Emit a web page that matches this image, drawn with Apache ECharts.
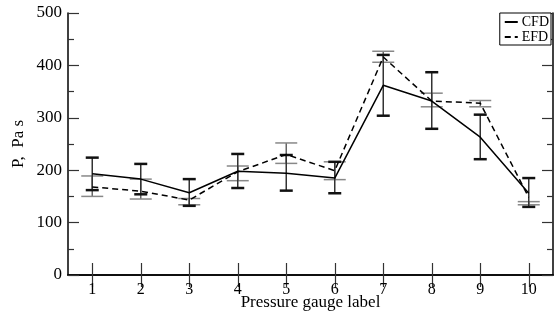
<!DOCTYPE html>
<html>
<head>
<meta charset="utf-8">
<script src="https://cdn.jsdelivr.net/npm/echarts@6/dist/echarts.min.js"></script>
<style>html,body{margin:0;padding:0;background:#fff}#c{width:555px;height:320px}</style>
</head>
<body>
<div id="c"></div>
<script>
var categories = ['1','2','3','4','5','6','7','8','9','10'];
var cfd     = [193, 183, 157, 198, 194, 185, 362, 332, 263, 156];
var cfdLow  = [162, 154, 132, 166, 161, 156, 304, 279, 221, 130];
var cfdHigh = [224, 212, 183, 231, 229, 216, 420, 387, 306, 185];
var efd     = [168, 160, 143, 197, 230, 199, 416, 332, 328, 148];
var efdLow  = [150, 145, 134, 180, 213, 182, 406, 321, 321, 134];
var efdHigh = [189, 183, 146, 208, 252, 216, 427, 347, 333, 140];
var yTicks = [0, 100, 200, 300, 400, 500];

var serif = "'Liberation Serif','DejaVu Serif',serif";

function errData(lo, hi) {
  return lo.map(function (v, i) { return [i, v, hi[i]]; });
}
function errRender(capW, capLw, capColor, stemColor) {
  return function (params, api) {
    var x = api.value(0);
    var p1 = api.coord([x, api.value(1)]);
    var p2 = api.coord([x, api.value(2)]);
    var h = capW / 2;
    return {
      type: 'group',
      children: [
        {type: 'line', shape: {x1: p1[0], y1: p1[1], x2: p2[0], y2: p2[1]}, style: {stroke: stemColor, lineWidth: 1.5}},
        {type: 'line', shape: {x1: p1[0] - h, y1: p1[1], x2: p1[0] + h, y2: p1[1]}, style: {stroke: capColor, lineWidth: capLw}},
        {type: 'line', shape: {x1: p2[0] - h, y1: p2[1], x2: p2[0] + h, y2: p2[1]}, style: {stroke: capColor, lineWidth: capLw}}
      ]
    };
  };
}

var chart = echarts.init(document.getElementById('c'), null, {renderer: 'canvas'});
var tickStyle = {color: '#333', width: 1.2};
chart.setOption({
  animation: false,
  backgroundColor: '#fff',
  grid: {left: 68, right: 2, top: 13, bottom: 45, show: false, containLabel: false, outerBoundsMode: 'none'},
  legend: {
    right: 4, top: 13, orient: 'vertical',
    data: ['CFD', 'EFD'],
    borderColor: '#000', borderWidth: 1, borderRadius: 0,
    padding: [2, 2, 1, 4], itemGap: 1, itemWidth: 13, itemHeight: 12,
    itemStyle: {opacity: 0},
    textStyle: {fontFamily: serif, fontSize: 14, color: '#000', padding: [0, 0, 0, -1]},
    backgroundColor: '#fff'
  },
  xAxis: [{
    type: 'category', data: categories, boundaryGap: true,
    axisLine: {show: true, lineStyle: {color: '#000', width: 1.5}},
    axisTick: {show: true, inside: true, alignWithLabel: true, length: 12, lineStyle: tickStyle},
    axisLabel: {fontFamily: serif, fontSize: 16, color: '#000', margin: 7},
    name: 'Pressure gauge label', nameLocation: 'middle', nameGap: 19, nameMoveOverlap: false,
    nameTextStyle: {fontFamily: serif, fontSize: 17, color: '#000'},
    splitLine: {show: false}
  }, {
    type: 'category', data: categories, boundaryGap: true, position: 'top',
    axisLine: {show: true, lineStyle: {color: '#000', width: 1.5}},
    axisTick: {show: true, inside: true, alignWithLabel: true, length: 12, lineStyle: tickStyle},
    axisLabel: {show: false}, splitLine: {show: false}
  }],
  yAxis: [{
    type: 'value', min: yTicks[0], max: yTicks[yTicks.length - 1], interval: 100,
    axisLine: {show: true, lineStyle: {color: '#000', width: 1.5}},
    axisTick: {show: true, inside: true, length: 11, lineStyle: tickStyle},
    minorTick: {show: true, splitNumber: 2, length: 6, lineStyle: tickStyle},
    axisLabel: {fontFamily: serif, fontSize: 17, color: '#000', margin: 6},
    name: 'P,  Pa s', nameLocation: 'middle', nameGap: 41, nameMoveOverlap: false,
    nameTextStyle: {fontFamily: serif, fontSize: 17, color: '#000'},
    splitLine: {show: false}
  }, {
    type: 'value', min: yTicks[0], max: yTicks[yTicks.length - 1], interval: 100, position: 'right',
    axisLine: {show: true, lineStyle: {color: '#000', width: 1.5}},
    axisTick: {show: true, inside: true, length: 11, lineStyle: tickStyle},
    minorTick: {show: true, splitNumber: 2, length: 6, lineStyle: tickStyle},
    axisLabel: {show: false}, splitLine: {show: false}
  }],
  series: [
    {type: 'custom', name: 'efdErr', data: errData(efdLow, efdHigh), renderItem: errRender(22, 1.5, '#888', '#666'), z: 2},
    {type: 'custom', name: 'cfdErr', data: errData(cfdLow, cfdHigh), renderItem: errRender(13, 2.5, '#111', '#333'), z: 3},
    {type: 'line', name: 'CFD', data: cfd, symbol: 'none', showSymbol: false, lineStyle: {color: '#000', width: 1.5, type: 'solid'}, itemStyle: {color: '#000'}, z: 4},
    {type: 'line', name: 'EFD', data: efd, symbol: 'none', showSymbol: false, lineStyle: {color: '#000', width: 1.5, type: [6, 4]}, itemStyle: {color: '#000'}, z: 4}
  ]
});
</script>
</body>
</html>
